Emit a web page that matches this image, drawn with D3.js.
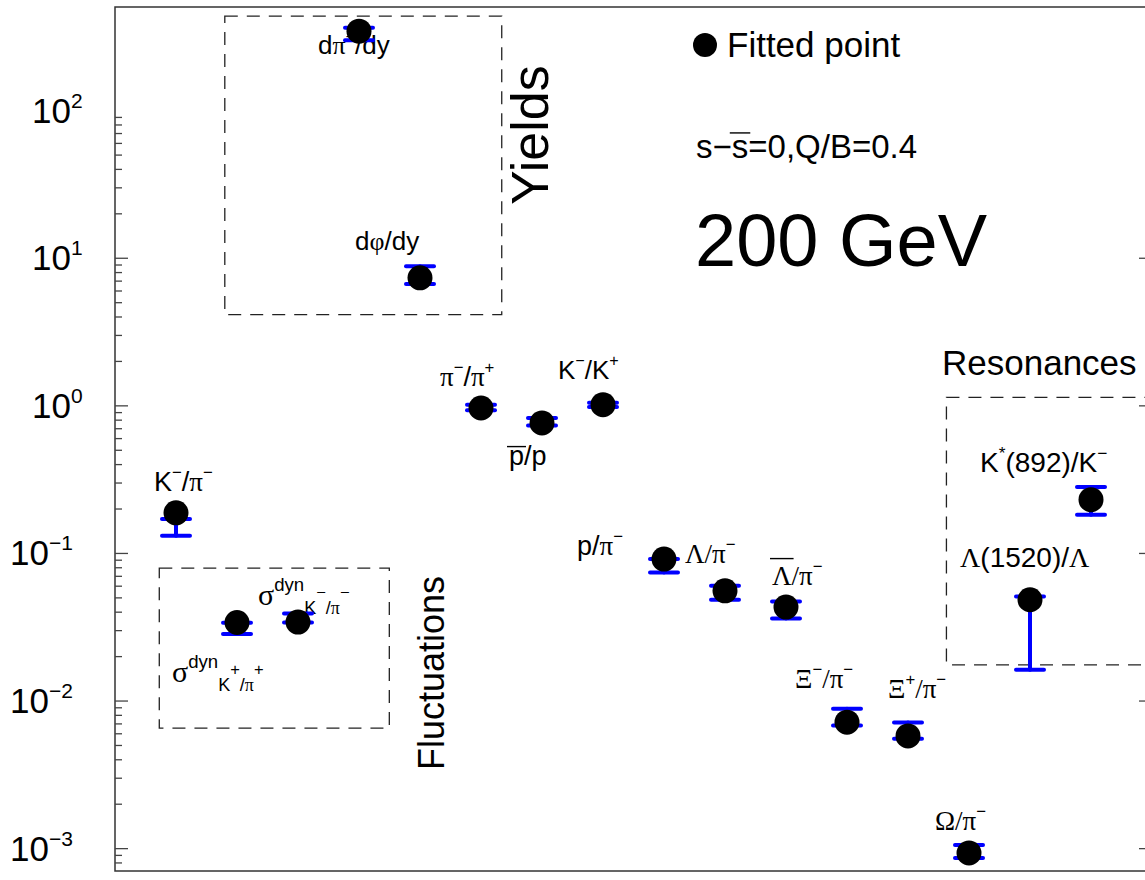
<!DOCTYPE html>
<html><head><meta charset="utf-8">
<script src="https://cdn.jsdelivr.net/npm/d3@7"></script>
<style>
body{margin:0;background:#fff}
svg{display:block}
text{font-family:"Liberation Sans",Arial,Helvetica,sans-serif;fill:#000}
</style>
</head><body>
<svg id="c" width="1145" height="880"></svg>
<script>
// ---------------- data ----------------
const categories = ["K-/pi-","sigma_dyn K+/pi+","sigma_dyn K-/pi-","dpi-/dy","dphi/dy","pi-/pi+","pbar/p","K-/K+",
  "p/pi-","Lambda/pi-","Lambdabar/pi-","Xi-/pi-","Xi+/pi-","Omega/pi-","Lambda(1520)/Lambda","K*(892)/K-"];
const xIndex    = [1,2,3,4,5,6,7,8,9,10,11,12,13,14,15,16];
const fitted    = [0.187,0.0338,0.0340,343,7.31,0.960,0.760,1.011,0.0909,0.0554,0.0430,0.00714,0.00576,0.000927,0.0482,0.2295];
const dataHigh  = [0.170,0.0336,0.0389,362,8.75,1.011,0.821,1.040,0.0909,0.0600,0.0469,0.00879,0.00710,0.00105,0.0507,0.280];
const dataLow   = [0.131,0.0282,0.0338,298,6.65,0.925,0.729,0.975,0.0738,0.0482,0.0360,0.00677,0.00550,0.000859,0.01615,0.1815];
const yDomain   = [0.0007, 500];
const xDomain   = [0, 17];
const decadeExponents = [-3,-2,-1,0,1,2];
const groupNames = ["Yields","Fluctuations","Resonances"];
// group boxes in data coordinates
const groupBoxX = [[1.80,6.34],[0.726,4.497],[13.63,17]];
const groupBoxY = [[4.12,434],[0.0065,0.079],[0.01746,1.133]];
// label text pieces: [text, script("^","_","_^"), greek, overline height (em)]
const labelParts = [
  [["K"],["−","^"],["/"],["π",0,1],["−","^"]],
  [["σ",0,1],["dyn","^"],["K","_"],["+","_^"],["/","_"],["π","_",1],["+","_^"]],
  [["σ",0,1],["dyn","^"],["K","_"],["−","_^"],["/","_"],["π","_",1],["−","_^"]],
  [["d"],["π",0,1],["−","^"],["/dy"]],
  [["d"],["φ",0,1],["/dy"]],
  [["π",0,1],["−","^"],["/"],["π",0,1],["+","^"]],
  [["p",0,0,0.68],["/p"]],
  [["K"],["−","^"],["/K"],["+","^"]],
  [["p/"],["π",0,1],["−","^"]],
  [["Λ/π",0,1],["−","^"]],
  [["Λ",0,1,0.98],["/π",0,1],["−","^"]],
  [["Ξ",0,1],["−","^"],["/π",0,1],["−","^"]],
  [["Ξ",0,1],["+","^"],["/π",0,1],["−","^"]],
  [["Ω/π",0,1],["−","^"]],
  [["Λ",0,1],["(1520)/"],["Λ",0,1]],
  [["K"],["*","^"],["(892)/K"],["−","^"]]
];
const legendLabel = "Fitted point";
const conditionParts = [["s−"],["s",0,0,0.76],["=0,Q/B=0.4"]];
const energyLabel = "200 GeV";

// ---------------- layout ----------------
const M = {left:115, right:1152, top:7, bottom:871};
const labelOffset = [[-22,-22],[-65,60],[-40,-17],[-41,23],[-65,-28],[-41,-22],[-33,42],[-45,-26],
  [-87,-4],[-40,-28],[-14,-22],[-52,-34],[-20,-38],[-34,-23],[-70,-33],[-111,-28]];
const labelSize = [27,30,30,26,26,27,27,26,27,27,27,27,27,27,28,28];
const GREEK = "'Liberation Serif','Times New Roman',serif";

const svg = d3.select("#c");
const x = d3.scaleLinear().domain(xDomain).range([M.left, M.right]);
const y = d3.scaleLog().domain(yDomain).range([M.bottom, M.top]);

function rich(g, px, py, parts, fs) {
  const t = g.append("text").attr("x", px).attr("y", py).attr("font-size", fs);
  let cur = 0, idx = 0;
  const overs = [];
  parts.forEach(p => {
    const [str, kind, greek, over] = p;
    let size = 1, rise = 0;
    if (kind === "^") { size = 0.62; rise = 0.47; }
    else if (kind === "_") { size = 0.6; rise = -0.3; }
    else if (kind === "_^") { size = 0.55; rise = 0.25; }
    const target = -rise * fs;
    const ts = t.append("tspan").attr("dy", target - cur).attr("font-size", fs * size).text(str);
    cur = target;
    if (greek) ts.style("font-family", GREEK);
    if (over) overs.push([idx, idx + str.length - 1, over, target]);
    idx += str.length;
  });
  const node = t.node();
  overs.forEach(([a, b, h, off]) => {
    const x0 = node.getStartPositionOfChar(a).x;
    const x1 = node.getEndPositionOfChar(b).x;
    const ly = py + off - h * fs;
    g.append("line").attr("x1", x0 - 2).attr("x2", x1 + 2).attr("y1", ly).attr("y2", ly)
      .attr("stroke", "#000").attr("stroke-width", 1.4);
  });
  return t;
}

// frame
svg.append("rect").attr("x", M.left).attr("y", M.top)
  .attr("width", M.right - M.left).attr("height", M.bottom - M.top)
  .attr("fill", "none").attr("stroke", "#333").attr("stroke-width", 1.5);

// ticks
const allTicks = [];
for (let e = -4; e <= 2; e++) for (let m = 1; m <= 9; m++) allTicks.push(m * Math.pow(10, e));
const inRange = allTicks.filter(v => v > yDomain[0] * 1.01 && v < 100);
const majors = inRange.filter(v => Math.abs(Math.log10(v) - Math.round(Math.log10(v))) < 1e-9);
const minors = inRange.filter(v => !majors.includes(v));
function axisG(gen, xp, vals, size) {
  const g = svg.append("g").attr("transform", `translate(${xp},0)`)
    .call(gen(y).tickValues(vals).tickSize(size).tickFormat(""));
  g.select(".domain").remove();
  g.selectAll("line").attr("stroke", "#444").attr("stroke-width", 1.3);
}
axisG(d3.axisRight, M.left, minors, 7);
axisG(d3.axisRight, M.left, majors, 13);
axisG(d3.axisLeft, M.right, minors, 7);
axisG(d3.axisLeft, M.right, majors, 13);

// tick labels
decadeExponents.forEach(e => {
  const ty = y(Math.pow(10, e));
  const t = svg.append("text").attr("x", e < 0 ? 10 : 32).attr("y", ty + 12.5).attr("font-size", 35);
  t.append("tspan").text("10");
  t.append("tspan").attr("dy", -15).attr("font-size", 21).text(e < 0 ? "−" + (-e) : String(e));
});

// group boxes
groupBoxX.forEach((bx, i) => {
  const by = groupBoxY[i];
  svg.append("rect")
    .attr("x", x(bx[0])).attr("y", y(by[1]))
    .attr("width", x(bx[1]) - x(bx[0])).attr("height", y(by[0]) - y(by[1]))
    .attr("fill", "none").attr("stroke", "#222").attr("stroke-width", 1.3)
    .attr("stroke-dasharray", "13,9");
});

// group titles
svg.append("text").attr("transform", "translate(548,205) rotate(-90)").attr("font-size", 52).text(groupNames[0]);
svg.append("text").attr("transform", "translate(444,770) rotate(-90)").attr("font-size", 36).text(groupNames[1]);
svg.append("text").attr("x", 942).attr("y", 375).attr("font-size", 35).text(groupNames[2]);

// labels (behind markers)
const lab = svg.append("g");
labelParts.forEach((parts, i) => {
  rich(lab, x(xIndex[i]) + labelOffset[i][0], y(fitted[i]) + labelOffset[i][1], parts, labelSize[i]);
});

// error bars
const eb = svg.append("g").attr("stroke", "#0000ff").attr("stroke-width", 4).attr("stroke-linecap", "round");
categories.forEach((c, i) => {
  const cx = x(xIndex[i]);
  eb.append("line").attr("x1", cx).attr("x2", cx).attr("y1", y(dataHigh[i])).attr("y2", y(dataLow[i]));
  [dataHigh[i], dataLow[i]].forEach(v => {
    eb.append("line").attr("x1", cx - 14).attr("x2", cx + 14).attr("y1", y(v)).attr("y2", y(v));
  });
});

// fitted points
svg.append("g").selectAll("circle").data(fitted).join("circle")
  .attr("cx", (d, i) => x(xIndex[i])).attr("cy", d => y(d)).attr("r", 12.5).attr("fill", "#000");

// legend & annotations
svg.append("circle").attr("cx", 705).attr("cy", 45).attr("r", 12).attr("fill", "#000");
svg.append("text").attr("x", 727).attr("y", 57).attr("font-size", 35).text(legendLabel);
rich(svg, 696, 158, conditionParts, 33);
svg.append("text").attr("x", 695).attr("y", 266).attr("font-size", 74).text(energyLabel);
</script>
</body></html>
